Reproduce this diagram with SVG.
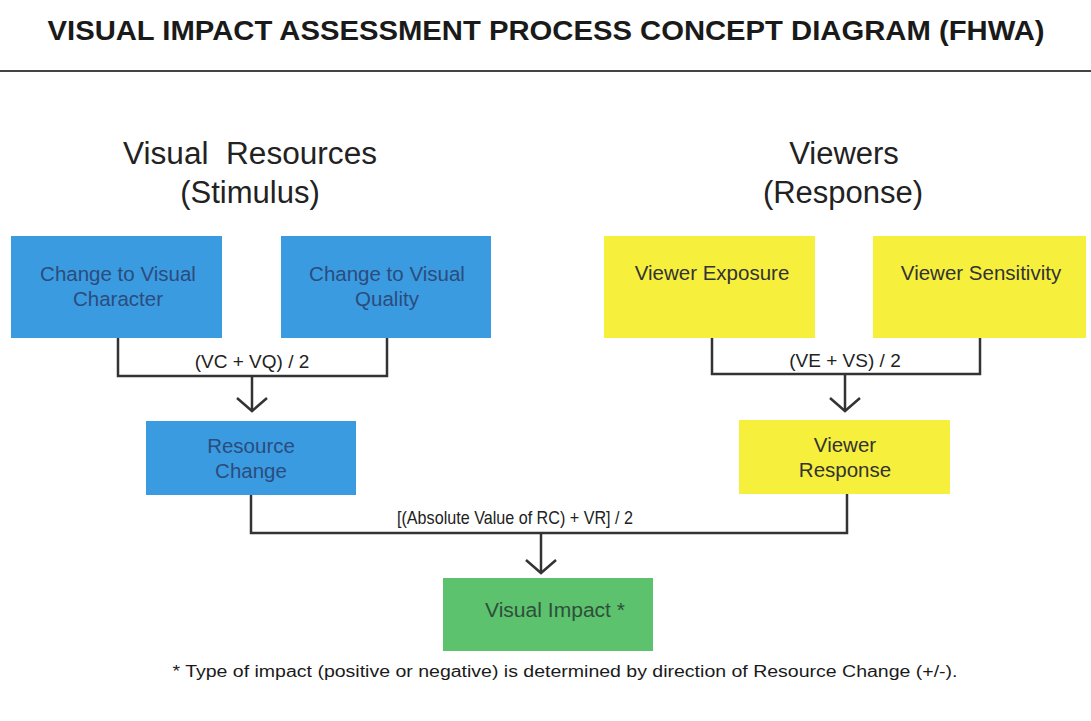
<svg xmlns="http://www.w3.org/2000/svg" width="1091" height="721" viewBox="0 0 1091 721">
<style>
text{font-family:"Liberation Sans",Arial,sans-serif;text-anchor:middle}
.title{font-size:27px;font-weight:bold;fill:#1a1a1a}
.head{font-size:31px;fill:#222}
.blue{fill:#3a9be0}
.yellow{fill:#f6f03c}
.green{fill:#5cc26e}
.bt{font-size:20.5px;fill:#2b4c7e}
.yt{font-size:20.5px;fill:#333}
.gt{font-size:20px;fill:#2f4f3a}
.lbl{font-size:19px;fill:#222}
.conn{fill:none;stroke:#333;stroke-width:2.5}
</style>
<rect width="1091" height="721" fill="#fff"/>
<text class="title" x="546" y="40" textLength="997" lengthAdjust="spacingAndGlyphs">VISUAL IMPACT ASSESSMENT PROCESS CONCEPT DIAGRAM (FHWA)</text>
<line x1="0" y1="71" x2="1091" y2="71" stroke="#444" stroke-width="2"/>
<text class="head" x="250" y="164" xml:space="preserve" textLength="254" lengthAdjust="spacingAndGlyphs">Visual  Resources</text>
<text class="head" x="250" y="203">(Stimulus)</text>
<text class="head" x="844" y="164">Viewers</text>
<text class="head" x="843" y="203">(Response)</text>
<g id="connectors">
<path class="conn" d="M118 338V376H387V338M252 376V410"/>
<path class="conn" d="M237 398L252 411L267 398"/>
<path class="conn" d="M712 338V374H980V338M845 374V410"/>
<path class="conn" d="M830 398L845 411L860 398"/>
<path class="conn" d="M251 495V533H847V494M541 533V572"/>
<path class="conn" d="M526 560L541 573L556 560"/>
<text class="lbl" x="252" y="368">(VC + VQ) / 2</text>
<text class="lbl" x="845" y="367">(VE + VS) / 2</text>
<text class="lbl" x="515" y="524" textLength="236" lengthAdjust="spacingAndGlyphs">[(Absolute Value of RC) + VR] / 2</text>
</g>
<g id="n-char"><rect class="blue" x="11" y="236" width="211" height="102"/><text class="bt" x="118" y="281">Change to Visual</text><text class="bt" x="118" y="306">Character</text></g>
<g id="n-qual"><rect class="blue" x="281" y="236" width="210" height="102"/><text class="bt" x="387" y="281">Change to Visual</text><text class="bt" x="387" y="306">Quality</text></g>
<g id="n-exp"><rect class="yellow" x="604" y="236" width="211" height="102"/><text class="yt" x="712" y="280">Viewer Exposure</text></g>
<g id="n-sens"><rect class="yellow" x="873" y="236" width="213" height="102"/><text class="yt" x="981" y="280">Viewer Sensitivity</text></g>
<g id="n-rc"><rect class="blue" x="146" y="421" width="210" height="74"/><text class="bt" x="251" y="453">Resource</text><text class="bt" x="251" y="478">Change</text></g>
<g id="n-vr"><rect class="yellow" x="739" y="420" width="211" height="74"/><text class="yt" x="845" y="452">Viewer</text><text class="yt" x="845" y="477">Response</text></g>
<g id="n-vi"><rect class="green" x="443" y="578" width="210" height="73"/><text class="gt" x="555" y="617" textLength="140" lengthAdjust="spacingAndGlyphs">Visual Impact *</text></g>
<text x="565" y="677" font-size="16" fill="#1a1a1a" textLength="785" lengthAdjust="spacingAndGlyphs">* Type of impact (positive or negative) is determined by direction of Resource Change (+/-).</text>
</svg>
